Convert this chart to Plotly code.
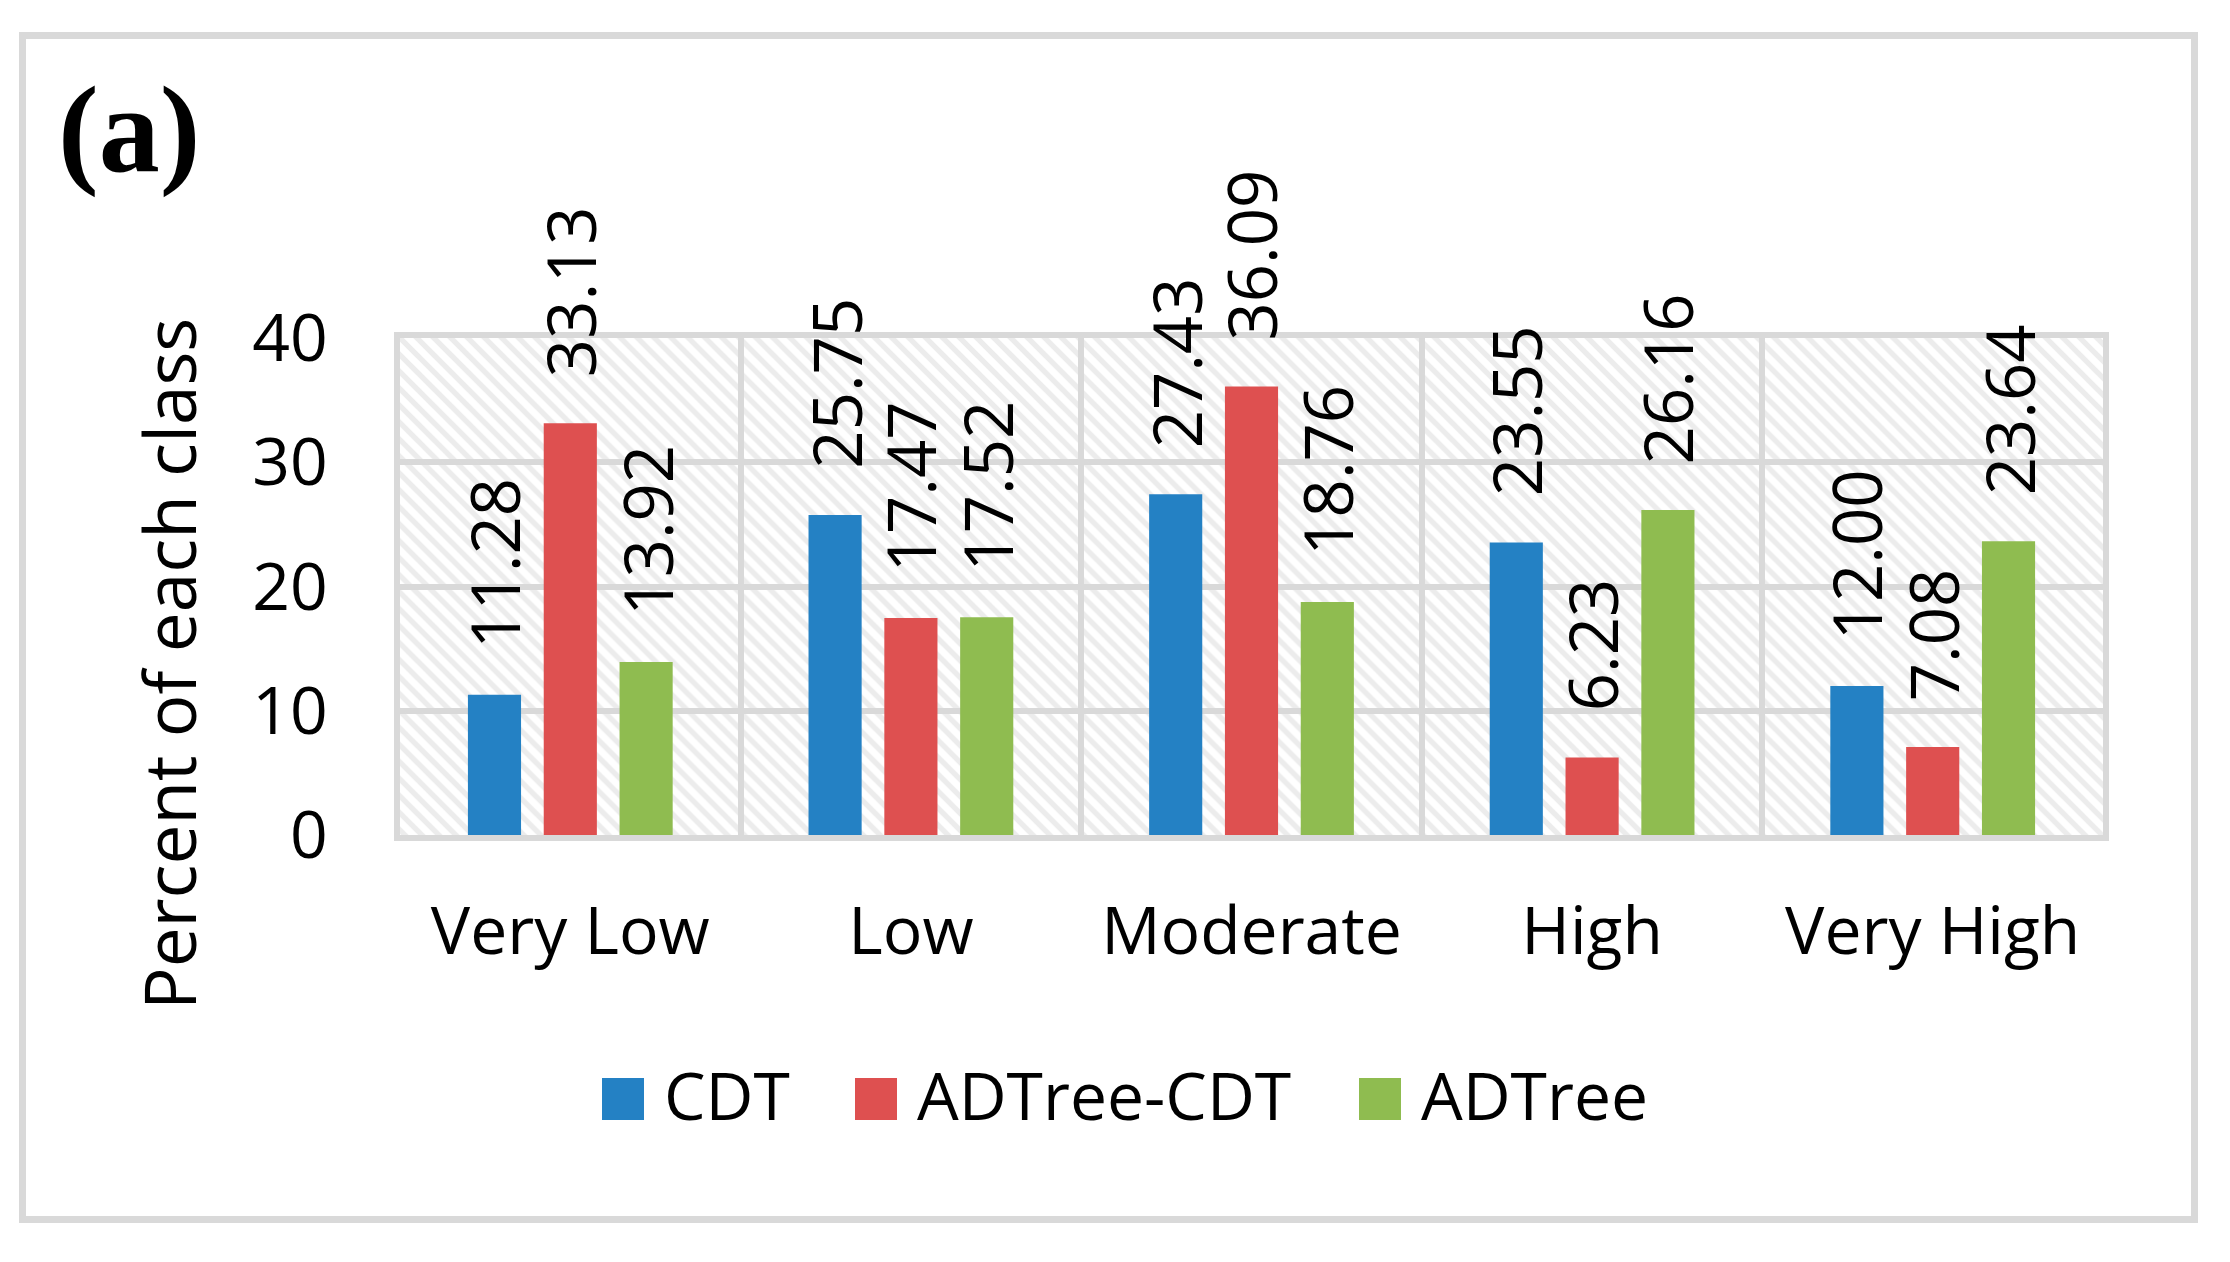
import plotly.graph_objects as go

# ---------------- data ----------------
categories = ["Very Low", "Low", "Moderate", "High", "Very High"]
series_names = ["CDT", "ADTree-CDT", "ADTree"]
cdt = [11.28, 25.75, 27.43, 23.55, 12.00]
adtree_cdt = [33.13, 17.47, 36.09, 6.23, 7.08]
adtree = [13.92, 17.52, 18.76, 26.16, 23.64]
y_ticks = [0, 10, 20, 30, 40]
panel_label = "(a)"
y_title = "Percent of each class"

series_values = [cdt, adtree_cdt, adtree]
colors = ["#2481C4", "#DE5050", "#8FBC50"]
grid_color = "#D9D9D9"

# ---------------- geometry (pixels) ----------------
W, H = 2230, 1262
PL, PR, PT, PB = 400, 2103, 338, 835   # plot area edges in px
plot_w, plot_h = PR - PL, PB - PT


def px_x(px):
    return (px - PL) / plot_w


def px_y(py):
    return (PB - py) / plot_h


slot = 0.2226      # distance between bar centres (category units)
bar_w = 0.156      # bar width (category units)
font_main = "Open Sans, Noto Sans, DejaVu Sans, sans-serif"

fig = go.Figure()

# hatched plot background (covers full value range of each category)
fig.add_trace(go.Bar(
    x=categories,
    y=[y_ticks[-1]] * len(categories),
    width=1.0, offset=-0.5,
    marker=dict(color="rgba(0,0,0,0)", line=dict(width=0),
                pattern=dict(shape="\\", fgcolor=grid_color,
                             bgcolor="rgba(0,0,0,0)", size=12, solidity=0.45)),
    hoverinfo="skip", showlegend=False,
))

annotations = []
for k, (name, vals, col) in enumerate(zip(series_names, series_values, colors)):
    centre = (k - 1) * slot
    fig.add_trace(go.Bar(
        x=categories, y=vals, name=name,
        width=bar_w, offset=centre - bar_w / 2,
        marker=dict(color=col, line=dict(width=0)),
        showlegend=False,
    ))
    for i, v in enumerate(vals):
        annotations.append(dict(
            x=i + centre, y=v, xref="x", yref="y",
            text=f"{v:.2f}", textangle=-90, showarrow=False,
            xanchor="center", yanchor="bottom", yshift=44,
            font=dict(family=font_main, size=67, color="black"),
        ))

# y-axis title (centred as in the original, lower than plot centre)
annotations.append(dict(
    x=px_x(168), y=px_y(664), xref="paper", yref="paper",
    text=y_title, textangle=-90, showarrow=False,
    xanchor="center", yanchor="middle",
    font=dict(family=font_main, size=71, color="black"),
))

# panel label
annotations.append(dict(
    x=px_x(56), y=px_y(130), xref="paper", yref="paper",
    text=f"<b>{panel_label}</b>", showarrow=False,
    xanchor="left", yanchor="middle",
    font=dict(family="Liberation Serif, DejaVu Serif, serif", size=122, color="black"),
))

# custom legend (big square swatches)
shapes = []
legend_swatch_x = [602, 855, 1359]
sw = 42
leg_cy = 1099
for name, col, sx in zip(series_names, colors, legend_swatch_x):
    shapes.append(dict(
        type="rect", xref="paper", yref="paper",
        x0=px_x(sx), x1=px_x(sx + sw),
        y0=px_y(leg_cy + sw / 2), y1=px_y(leg_cy - sw / 2),
        fillcolor=col, line=dict(width=0), layer="above",
    ))
    annotations.append(dict(
        x=px_x(sx + sw + 18), y=px_y(leg_cy - 5), xref="paper", yref="paper",
        text=name, showarrow=False, xanchor="left", yanchor="middle",
        font=dict(family=font_main, size=66, color="black"),
    ))

# outer chart border
shapes.append(dict(
    type="rect", xref="paper", yref="paper",
    x0=px_x(22.5), x1=px_x(2194.5), y0=px_y(1219.5), y1=px_y(35.5),
    line=dict(color=grid_color, width=7), fillcolor="rgba(0,0,0,0)",
    layer="below",
))

fig.update_layout(
    width=W, height=H,
    margin=dict(l=PL, r=W - PR, t=PT, b=H - PB, pad=0),
    paper_bgcolor="white", plot_bgcolor="white",
    barmode="overlay",
    showlegend=False,
    annotations=annotations,
    shapes=shapes,
    font=dict(family=font_main, color="black"),
)

fig.update_xaxes(
    type="category",
    range=[-0.5, len(categories) - 0.5],
    tickson="boundaries", ticks="",
    showgrid=True, gridcolor=grid_color, gridwidth=6,
    showline=True, linecolor=grid_color, linewidth=6, mirror=True,
    tickfont=dict(family=font_main, size=66, color="black"),
    ticklabelstandoff=34,
    zeroline=False,
)
fig.update_yaxes(
    range=[y_ticks[0], y_ticks[-1]],
    tickvals=y_ticks,
    showgrid=True, gridcolor=grid_color, gridwidth=6,
    showline=True, linecolor=grid_color, linewidth=6, mirror=True,
    ticks="",
    tickfont=dict(family=font_main, size=66, color="black"),
    ticklabelstandoff=53,
    zeroline=False,
)

fig.write_html("out.html", config={"displayModeBar": False},
               post_script="document.body.style.margin='0';")
